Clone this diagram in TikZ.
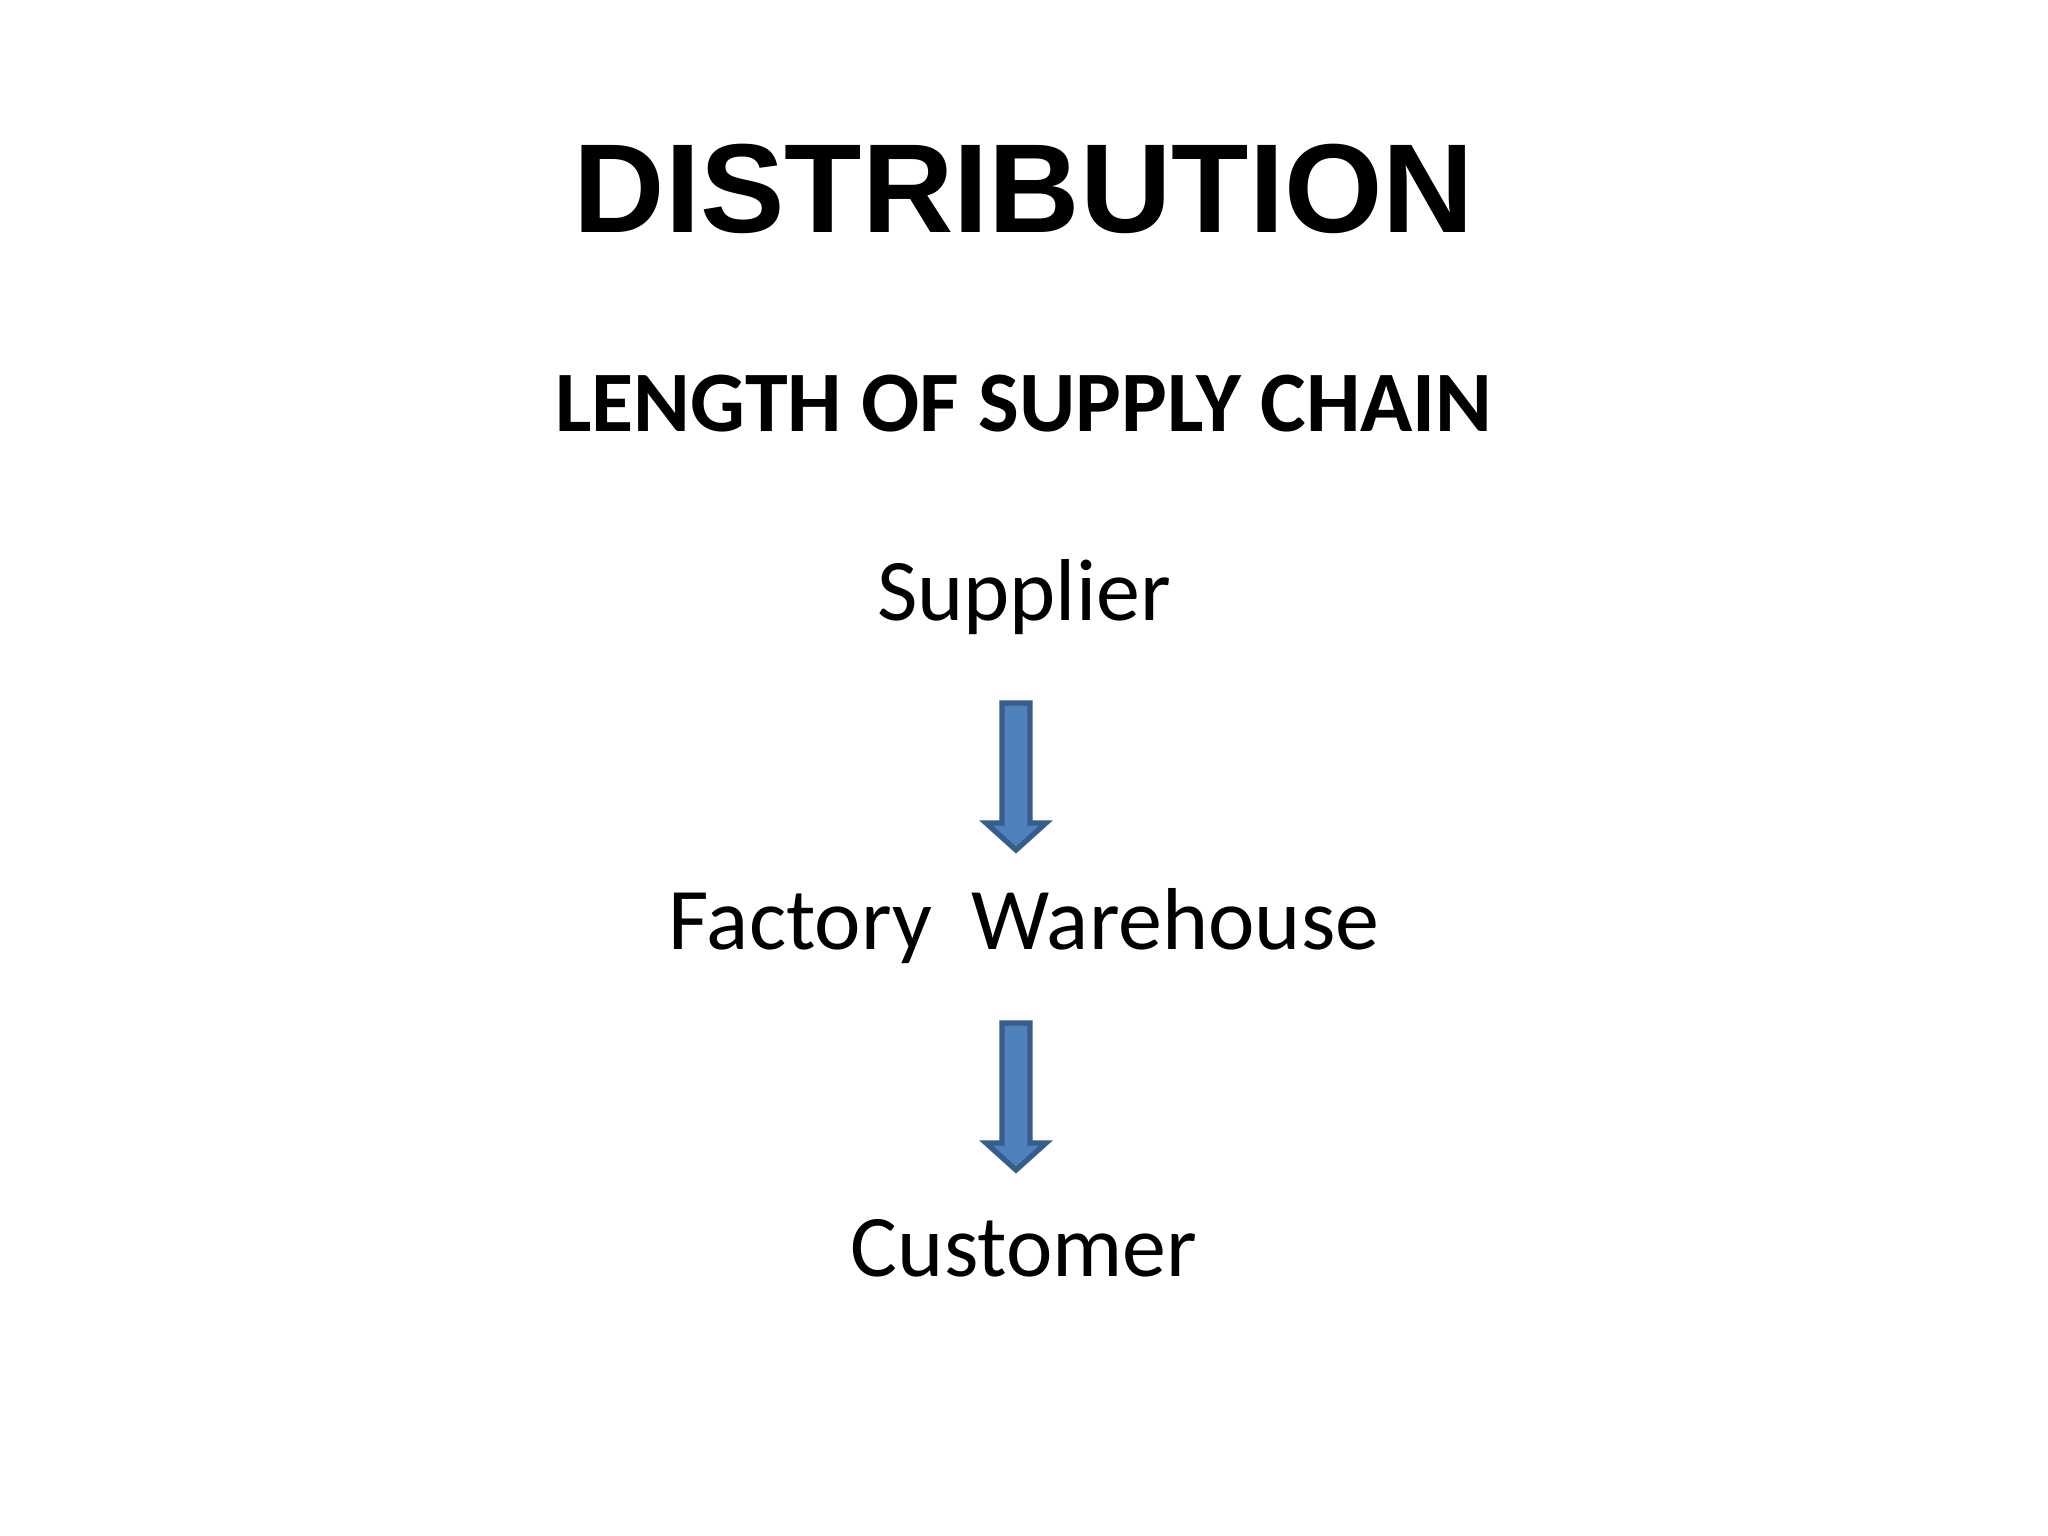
\documentclass[tikz,border=0pt]{standalone}
\usepackage{fontspec}
\setmainfont{Carlito}
\newfontfamily\arialfont{Liberation Sans}
\definecolor{arrowfill}{HTML}{4F81BD}
\definecolor{arrowline}{HTML}{385D8A}
\begin{document}
\begin{tikzpicture}[x=0.01cm,y=-0.01cm,
  label/.style={anchor=base,inner sep=0pt,font=\fontsize{25}{30}\selectfont},
  blockarrow/.style={fill=arrowfill,draw=arrowline,line width=1.5pt,line join=miter}]
\fill[white] (0,0) rectangle (2048,1536);
\node[anchor=base,inner sep=0pt,font=\arialfont\bfseries\fontsize{36}{40}\selectfont] (title) at (1024,232) {DISTRIBUTION};
\node[anchor=base,inner sep=0pt,font=\bfseries\fontsize{24.5}{30}\selectfont] (sub) at (1024,431) {LENGTH OF SUPPLY CHAIN};
\node[label] (sup) at (1024,620) {Supplier};
\node[label] (fw) at (1024,949) {Factory\ \ Warehouse};
\node[label] (cus) at (1024,1276) {Customer};
\foreach \t/\h/\b in {703/823/850, 1023/1143/1170}{
  \draw[blockarrow] (1002,\t) -- (1030,\t) -- (1030,\h) -- (1046,\h) -- (1016,\b) -- (986,\h) -- (1002,\h) -- cycle;
}
\end{tikzpicture}
\end{document}
